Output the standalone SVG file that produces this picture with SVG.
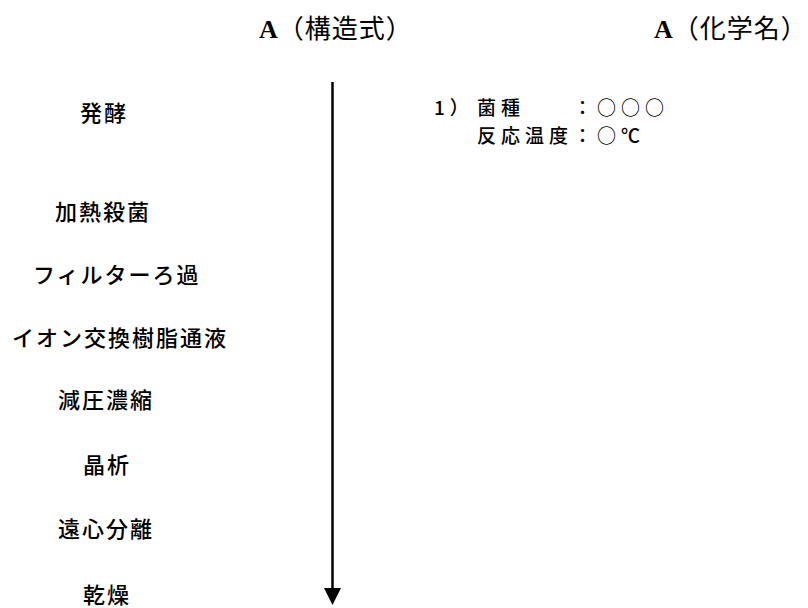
<svg xmlns="http://www.w3.org/2000/svg" width="808" height="608" viewBox="0 0 808 608">
<style>
.t{font-family:"Noto Sans CJK JP","Noto Sans",sans-serif;font-size:22px;font-weight:500;letter-spacing:2px;fill:#000}
.c{font-family:"Noto Sans CJK JP","Noto Sans",sans-serif;font-size:19px;font-weight:500;letter-spacing:5px;fill:#000}
.h{font-family:"Noto Sans CJK JP","Noto Sans",sans-serif;font-size:26px;letter-spacing:1px;fill:#000}
.a{font-family:"Liberation Serif",serif;font-weight:bold;letter-spacing:0}
</style>
<defs>
<marker id="ah" markerUnits="userSpaceOnUse" markerWidth="17" markerHeight="17" viewBox="0 0 17 17" refX="2" refY="8.5" orient="auto">
<path d="M0,0 L17,8.5 L0,17 z" fill="#000"/>
</marker>
</defs>
<rect width="808" height="608" fill="#fff"/>
<g id="titles">
<text class="h" x="259" y="38"><tspan class="a">A</tspan>（構造式）</text>
<text class="h" x="654" y="38"><tspan class="a">A</tspan>（化学名）</text>
</g>
<g id="connectors">
<line x1="332.5" y1="82" x2="332.5" y2="590" stroke="#000" stroke-width="2.5" marker-end="url(#ah)"/>
</g>
<g id="step-hakko"><text class="t" x="80" y="121">発酵</text></g>
<g id="step-kanetsu"><text class="t" x="55" y="220">加熱殺菌</text></g>
<g id="step-filter"><text class="t" x="33" y="283">フィルターろ過</text></g>
<g id="step-ion"><text class="t" x="12" y="346">イオン交換樹脂通液</text></g>
<g id="step-genatsu"><text class="t" x="58" y="408">減圧濃縮</text></g>
<g id="step-shoseki"><text class="t" x="83" y="473">晶析</text></g>
<g id="step-enshin"><text class="t" x="58" y="537">遠心分離</text></g>
<g id="step-kanso"><text class="t" x="83" y="603">乾燥</text></g>
<g id="conditions">
<text class="c"><tspan x="434" y="115">1）</tspan><tspan x="477" y="115">菌種</tspan><tspan x="573" y="115">：○○○</tspan><tspan x="477" y="143">反応温度：○℃</tspan></text>
</g>
</svg>
